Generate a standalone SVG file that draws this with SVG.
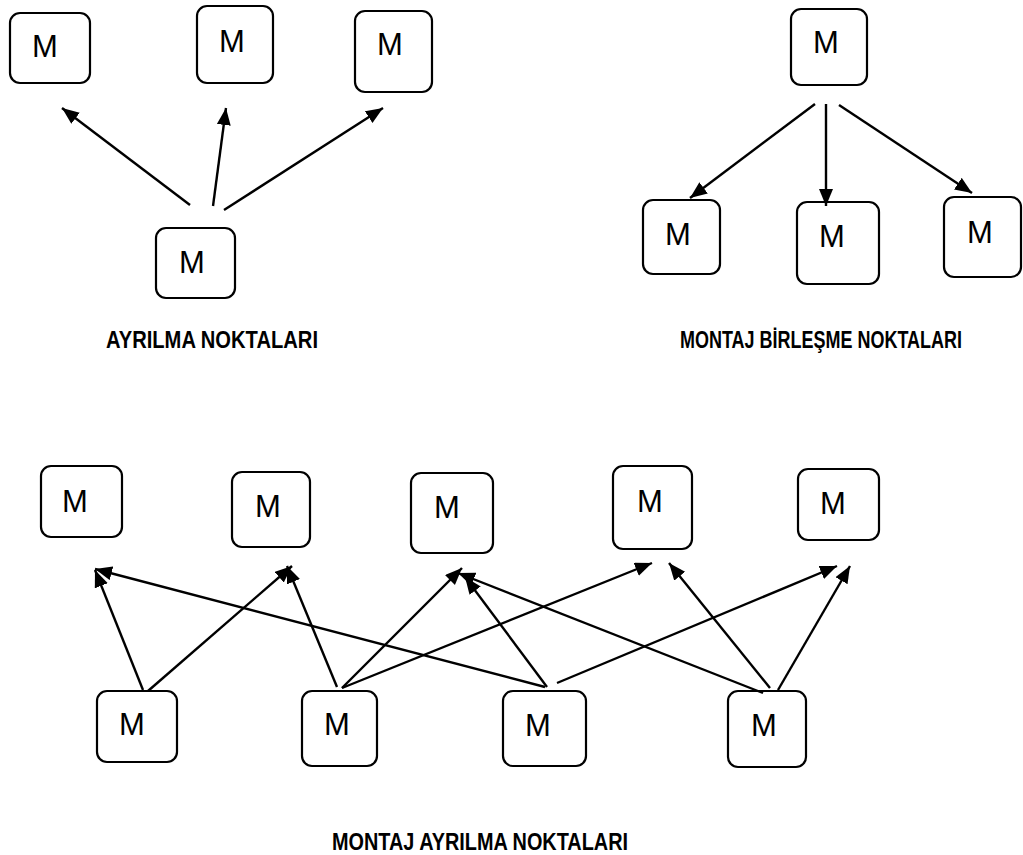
<svg xmlns="http://www.w3.org/2000/svg" width="1023" height="855" viewBox="0 0 1023 855">
  <style>
    .box { fill: #ffffff; stroke: #000000; stroke-width: 2.2; }
    .m { font-family: "Liberation Sans", Arial, sans-serif; font-size: 31px; fill: #000000; text-anchor: middle; }
    .lbl { font-family: "Liberation Sans", Arial, sans-serif; font-size: 21px; font-weight: bold; fill: #000000; }
    .edge { stroke: #000000; stroke-width: 2.4; fill: none; marker-end: url(#arrow); }
  </style>
  <defs>
    <marker id="arrow" markerUnits="userSpaceOnUse" markerWidth="19" markerHeight="15" refX="17" refY="7" orient="auto">
      <path d="M0,0 L17,7 L0,14 z" fill="#000000"/>
    </marker>
  </defs>
  <rect width="1023" height="855" fill="#ffffff"/>

  <!-- Section 1: separation points -->
  <g id="s1-top-1"><rect class="box" x="10" y="13" width="80" height="70" rx="10"/><text class="m" x="45" y="57">M</text></g>
  <g id="s1-top-2"><rect class="box" x="197" y="6" width="76" height="77" rx="10"/><text class="m" x="232" y="52">M</text></g>
  <g id="s1-top-3"><rect class="box" x="355" y="11" width="77" height="81" rx="10"/><text class="m" x="390" y="55">M</text></g>
  <g id="s1-bottom"><rect class="box" x="156" y="228" width="79" height="70" rx="10"/><text class="m" x="192" y="273">M</text></g>

  <!-- Section 2: assembly joining points -->
  <g id="s2-top"><rect class="box" x="791" y="9" width="76" height="76" rx="10"/><text class="m" x="826" y="53">M</text></g>
  <g id="s2-bottom-1"><rect class="box" x="643" y="200" width="77" height="74" rx="10"/><text class="m" x="678" y="245">M</text></g>
  <g id="s2-bottom-2"><rect class="box" x="797" y="202" width="82" height="82" rx="10"/><text class="m" x="832" y="247">M</text></g>
  <g id="s2-bottom-3"><rect class="box" x="944" y="197" width="77" height="80" rx="10"/><text class="m" x="980" y="243">M</text></g>

  <!-- Section 3: assembly separation points -->
  <g id="s3-top-1"><rect class="box" x="41" y="466" width="81" height="71" rx="10"/><text class="m" x="75" y="512">M</text></g>
  <g id="s3-top-2"><rect class="box" x="232" y="472" width="78" height="75" rx="10"/><text class="m" x="268" y="517">M</text></g>
  <g id="s3-top-3"><rect class="box" x="411" y="473" width="82" height="80" rx="10"/><text class="m" x="447" y="518">M</text></g>
  <g id="s3-top-4"><rect class="box" x="613" y="466" width="79" height="83" rx="10"/><text class="m" x="650" y="512">M</text></g>
  <g id="s3-top-5"><rect class="box" x="798" y="469" width="81" height="71" rx="10"/><text class="m" x="833" y="514">M</text></g>
  <g id="s3-bottom-1"><rect class="box" x="97" y="691" width="80" height="71" rx="10"/><text class="m" x="132" y="735">M</text></g>
  <g id="s3-bottom-2"><rect class="box" x="302" y="691" width="75" height="75" rx="10"/><text class="m" x="337" y="735">M</text></g>
  <g id="s3-bottom-3"><rect class="box" x="503" y="691" width="83" height="75" rx="10"/><text class="m" x="538" y="736">M</text></g>
  <g id="s3-bottom-4"><rect class="box" x="728" y="691" width="78" height="76" rx="10"/><text class="m" x="764" y="736">M</text></g>

  <!-- Connectors -->
  <g id="connectors">
    <line class="edge" x1="190" y1="205" x2="62" y2="108"/>
    <line class="edge" x1="213" y1="206" x2="226" y2="108"/>
    <line class="edge" x1="224" y1="210" x2="383" y2="108"/>

    <line class="edge" x1="815" y1="104" x2="690" y2="198"/>
    <line class="edge" x1="826" y1="104" x2="826" y2="206"/>
    <line class="edge" x1="839" y1="105" x2="972" y2="193"/>

    <line class="edge" x1="143" y1="690" x2="95" y2="570"/>
    <line class="edge" x1="148" y1="691" x2="292" y2="566"/>
    <line class="edge" x1="337" y1="687" x2="287" y2="566"/>
    <line class="edge" x1="342" y1="688" x2="462" y2="568"/>
    <line class="edge" x1="342" y1="688" x2="652" y2="563"/>
    <line class="edge" x1="545" y1="687" x2="95" y2="569"/>
    <line class="edge" x1="547" y1="687" x2="465" y2="577"/>
    <line class="edge" x1="557" y1="683" x2="837" y2="566"/>
    <line class="edge" x1="763" y1="693" x2="458" y2="573"/>
    <line class="edge" x1="770" y1="688" x2="669" y2="563"/>
    <line class="edge" x1="778" y1="690" x2="850" y2="566"/>
  </g>

  <!-- Captions (slightly stretched vertically for a condensed look) -->
  <text class="lbl" transform="translate(106 348) scale(1 1.1)" textLength="212" lengthAdjust="spacingAndGlyphs">AYRILMA NOKTALARI</text>
  <text class="lbl" transform="translate(680 348) scale(1 1.1)" textLength="282" lengthAdjust="spacingAndGlyphs">MONTAJ BİRLEŞME NOKTALARI</text>
  <text class="lbl" transform="translate(332 850) scale(1 1.1)" textLength="296" lengthAdjust="spacingAndGlyphs">MONTAJ AYRILMA NOKTALARI</text>
</svg>
